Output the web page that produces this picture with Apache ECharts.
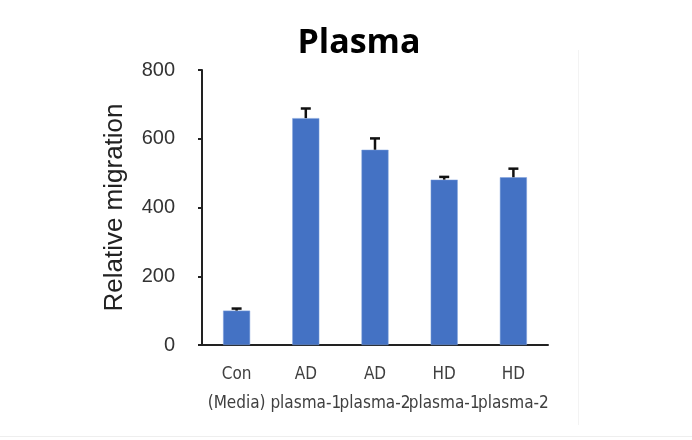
<!DOCTYPE html>
<html>
<head>
<meta charset="utf-8">
<script src="https://cdn.jsdelivr.net/npm/echarts@6/dist/echarts.min.js"></script>
<style>
html,body{margin:0;padding:0;background:#fff;}
#chart{width:692px;height:440px;}
</style>
</head>
<body>
<div id="chart"></div>
<script>
const categories = ['Con\n(Media)', 'AD\nplasma-1', 'AD\nplasma-2', 'HD\nplasma-1', 'HD\nplasma-2'];
const values = [100, 660, 568, 481, 488];
const errors = [6, 28, 33, 8, 25];
const yTicks = [0, 200, 400, 600, 800];

const chart = echarts.init(document.getElementById('chart'), null, {renderer: 'canvas'});
const errData = values.map((v, i) => [i, v, v + errors[i]]);

chart.setOption({
  animation: false,
  backgroundColor: '#fff',
  title: {
    text: 'Plasma',
    left: 354, textAlign: 'center',
    top: 21,
    textStyle: {fontFamily: 'Open Sans', fontWeight: 'bold', fontSize: 34, color: '#000'}
  },
  graphic: [
    {type: 'line', shape: {x1: 0, y1: 436.5, x2: 692, y2: 436.5}, style: {stroke: '#eeeeee', lineWidth: 1}},
    {type: 'line', shape: {x1: 578.5, y1: 50, x2: 578.5, y2: 425}, style: {stroke: '#f3f3f3', lineWidth: 1}}
  ],
  grid: {left: 202, right: 144, top: 70, bottom: 95},
  xAxis: {
    type: 'category',
    data: categories,
    axisLine: {lineStyle: {color: '#222', width: 2}},
    axisTick: {show: false},
    axisLabel: {
      interval: 0, margin: 15,
      fontFamily: '"DejaVu Sans Condensed", "Liberation Sans Narrow", "Liberation Sans", sans-serif',
      fontSize: 17, lineHeight: 29, color: '#404040'
    }
  },
  yAxis: {
    type: 'value',
    min: yTicks[0], max: yTicks[yTicks.length - 1], interval: 200,
    name: 'Relative migration',
    nameLocation: 'middle',
    nameGap: 74,
    nameTextStyle: {fontFamily: 'Liberation Sans, Arial, sans-serif', fontSize: 26, color: '#222'},
    axisLine: {show: true, lineStyle: {color: '#222', width: 2}},
    axisTick: {show: true, length: 4, lineStyle: {color: '#222', width: 2}},
    splitLine: {show: false},
    axisLabel: {
      margin: 27,
      fontFamily: 'Liberation Sans, Arial, sans-serif',
      fontSize: 20, color: '#333'
    }
  },
  series: [
    {
      type: 'bar',
      data: values,
      barWidth: 27,
      itemStyle: {color: '#4472C4', borderColor: '#7fa0dc', borderWidth: 0.5},
      z: 2
    },
    {
      type: 'custom',
      data: errData,
      z: 3,
      renderItem: function (params, api) {
        const x = api.coord([api.value(0), api.value(1)])[0];
        const yLow = api.coord([api.value(0), api.value(1)])[1];
        const yHigh = api.coord([api.value(0), api.value(2)])[1];
        const half = 5;
        const st = {stroke: '#111', lineWidth: 2.5};
        return {
          type: 'group',
          children: [
            {type: 'line', shape: {x1: x, y1: yLow, x2: x, y2: yHigh}, style: st},
            {type: 'line', shape: {x1: x - half, y1: yHigh, x2: x + half, y2: yHigh}, style: st}
          ]
        };
      }
    }
  ]
});
</script>
</body>
</html>
